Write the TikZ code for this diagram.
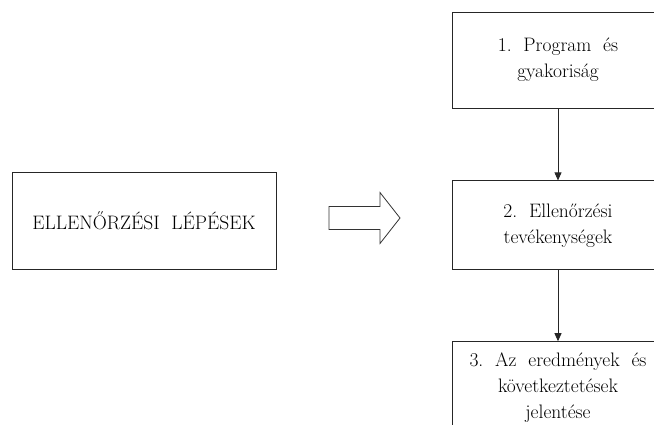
\documentclass[tikz,border=0pt]{standalone}
\usepackage{tikz}
\usetikzlibrary{arrows.meta}
\usetikzlibrary{positioning}
\newcommand{\hollowarrow}{\draw[line width = 0.8pt, draw = black!80, fill = white] (0,-11.5) -- (51,-11.5) -- (51,-25.5) -- (71,0) -- (51,25.5) -- (51,11.5) -- (0,11.5) -- cycle;}
\tikzset{stepbox/.style={draw = black!85, line width = 0.8pt, align = center, font = \fontsize{19.5}{26}\selectfont, inner sep = 0pt},
	steparrow/.style={draw = black!85, line width = 0.8pt, -{Triangle[length=8pt, width=7pt]}}}

\begin{document}
\begin{tikzpicture}[x=1pt, y=-1pt]

					\useasboundingbox (0,0) rectangle (654,424);
					\clip (0,0) rectangle (654,424);

					\node[stepbox, minimum width = 264pt, minimum height = 97pt] (lepesek) at (144,220.5) {ELLENŐRZÉSI\ \ LÉPÉSEK};

					\begin{scope}[xshift = 329pt, yshift = -218pt]
						\hollowarrow
					\end{scope}

					\node[stepbox, minimum width = 212pt, minimum height = 96pt] (program) at (558,60) {1.\ \ Program\ \ és\\gyakoriság};
					\node[stepbox, minimum width = 212pt, minimum height = 89pt, below = 72pt of program] (tevekenyseg) {2.\ \ Ellenőrzési\\tevékenységek};
					\node[stepbox, minimum width = 212pt, minimum height = 92pt, below = 71pt of tevekenyseg] (jelentes) {3.\ \ Az\ \ eredmények\ \ és\\következtetések\\jelentése};

					\draw[steparrow] (program) -- (tevekenyseg);
					\draw[steparrow] (tevekenyseg) -- (jelentes);

\end{tikzpicture}
\end{document}
